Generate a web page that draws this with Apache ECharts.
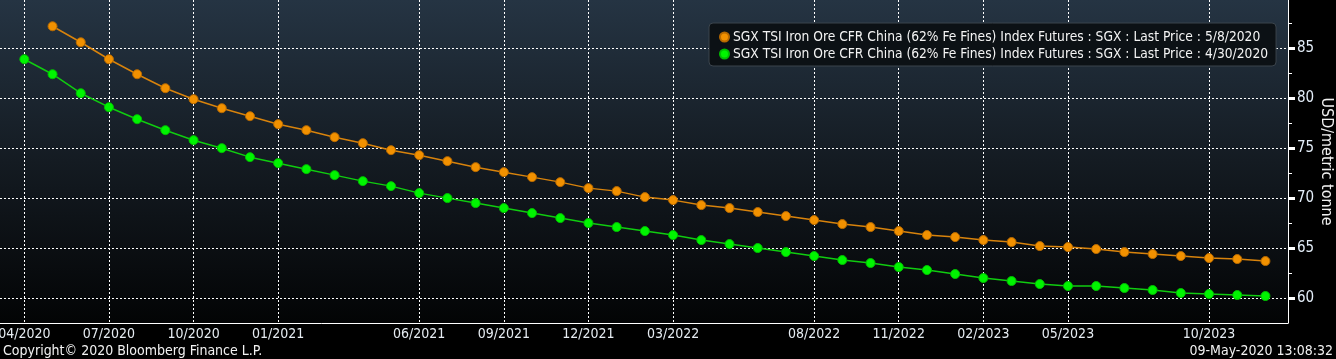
<!DOCTYPE html>
<html>
<head>
<meta charset="utf-8">
<style>
html,body{margin:0;padding:0;background:#000;}
#chart{width:1336px;height:359px;}
</style>
<script src="https://cdn.jsdelivr.net/npm/echarts@6/dist/echarts.min.js"></script>
</head>
<body>
<div id="chart"></div>
<script>
// Months from 04/2020 to 12/2023
const months = [
  '04/2020','05/2020','06/2020','07/2020','08/2020','09/2020','10/2020','11/2020','12/2020',
  '01/2021','02/2021','03/2021','04/2021','05/2021','06/2021','07/2021','08/2021','09/2021','10/2021','11/2021','12/2021',
  '01/2022','02/2022','03/2022','04/2022','05/2022','06/2022','07/2022','08/2022','09/2022','10/2022','11/2022','12/2022',
  '01/2023','02/2023','03/2023','04/2023','05/2023','06/2023','07/2023','08/2023','09/2023','10/2023','11/2023','12/2023'
];
// Last Price 5/8/2020 (starts 05/2020)
const price0508 = [
  87.2,85.6,83.9,82.4,81.0,79.9,79.0,78.2,
  77.4,76.8,76.1,75.5,74.8,74.3,73.7,73.1,72.6,72.1,71.6,71.0,
  70.7,70.1,69.8,69.3,69.0,68.6,68.2,67.8,67.4,67.1,66.7,66.3,
  66.1,65.8,65.6,65.2,65.1,64.9,64.6,64.4,64.2,64.0,63.9,63.7
];
// Last Price 4/30/2020 (starts 04/2020)
const price0430 = [
  83.9,82.4,80.5,79.1,77.9,76.8,75.8,75.0,74.1,
  73.5,72.9,72.3,71.7,71.2,70.5,70.0,69.5,69.0,68.5,68.0,67.5,
  67.1,66.7,66.3,65.8,65.4,65.0,64.6,64.2,63.8,63.5,63.1,62.8,
  62.4,62.0,61.7,61.4,61.2,61.2,61.0,60.8,60.5,60.4,60.3,60.2
];
const xTickLabels = ['04/2020','07/2020','10/2020','01/2021','06/2021','09/2021','12/2021','03/2022','08/2022','11/2022','02/2023','05/2023','10/2023'];
const yTicks = [60,65,70,75,80,85];
const yMinorTicks = [62.5,67.5,72.5,77.5,82.5,87.5];
const seriesNames = [
  'SGX TSI Iron Ore CFR China (62% Fe Fines) Index Futures : SGX : Last Price : 5/8/2020',
  'SGX TSI Iron Ore CFR China (62% Fe Fines) Index Futures : SGX : Last Price : 4/30/2020'
];
const yAxisName = 'USD/metric tonne';
const copyright = 'Copyright\u00a9 2020 Bloomberg Finance L.P.';
const stamp = '09-May-2020 13:08:32';

const FONT = "'Liberation Sans Narrow','DejaVu Sans Condensed','Arial Narrow',sans-serif";
const offset0508 = months.length - price0508.length;
const data0508 = price0508.map((v, i) => [i + offset0508, v]);
const data0430 = price0430.map((v, i) => [i, v]);
const xTickIdx = xTickLabels.map(l => months.indexOf(l));

const chart = echarts.init(document.getElementById('chart'));
const Y_MIN = 57.5, Y_MAX = 89.83;
chart.setOption({
  backgroundColor: '#000',
  animation: false,
  textStyle: { fontFamily: FONT },
  title: [
    { text: copyright, left: 3, bottom: 1, padding: 0,
      textStyle: { color: '#f2f2f2', fontSize: 14, fontWeight: 'normal', fontFamily: FONT } },
    { text: stamp, right: 3, bottom: 1, padding: 0,
      textStyle: { color: '#f2f2f2', fontSize: 14, fontWeight: 'normal', fontFamily: FONT } }
  ],
  grid: {
    left: 0, top: 0, right: 48, bottom: 36,
    outerBoundsMode: 'none',
    containLabel: false,
    show: true, borderWidth: 0,
    backgroundColor: new echarts.graphic.LinearGradient(0, 0, 0, 1, [
      { offset: 0, color: '#253443' },
      { offset: 0.5, color: '#141b22' },
      { offset: 1, color: '#030405' }
    ])
  },
  legend: {
    orient: 'vertical',
    left: 709, top: 23,
    padding: [7, 8, 5, 10],
    itemGap: 3,
    itemWidth: 9, itemHeight: 9,
    icon: 'circle',
    backgroundColor: '#0c1115',
    borderColor: '#3b444c',
    borderWidth: 1,
    borderRadius: 4,
    textStyle: { color: '#f4f4f4', fontSize: 13.7, fontFamily: FONT, padding: [0, 0, 0, -1] },
    data: seriesNames
  },
  xAxis: {
    type: 'value',
    min: -0.862, max: 44.8,
    axisLine: { show: true, onZero: false, lineStyle: { color: '#ffffff', width: 1 } },
    axisTick: { show: false, customValues: xTickIdx },
    axisLabel: {
      customValues: xTickIdx,
      color: '#e6ecf2', fontSize: 14, fontFamily: FONT, margin: 4,
      formatter: v => months[Math.round(v)] || ''
    },
    splitLine: { show: true, lineStyle: { color: '#ffffff', type: [2, 2], width: 1 } }
  },
  yAxis: [
    {
      type: 'value', position: 'right',
      min: Y_MIN, max: Y_MAX,
      name: yAxisName, nameLocation: 'middle', nameRotate: -90, nameGap: 30,
      nameMoveOverlap: false,
      nameTextStyle: { color: '#f0f0f0', fontSize: 16, fontFamily: FONT },
      axisLine: { show: true, onZero: false, lineStyle: { color: '#ffffff', width: 1 } },
      axisTick: { show: true, customValues: yTicks, length: 7, lineStyle: { color: '#ffffff', width: 3 } },
      axisLabel: { customValues: yTicks, color: '#e3edf8', fontSize: 15, fontFamily: FONT, margin: 9 },
      splitLine: { show: true, lineStyle: { color: '#ffffff', type: [2, 2], width: 1 } }
    },
    {
      type: 'value', position: 'right',
      min: Y_MIN, max: Y_MAX,
      axisLine: { show: false, onZero: false },
      axisTick: { show: true, customValues: yMinorTicks, length: 4, lineStyle: { color: '#ffffff', width: 1 } },
      axisLabel: { show: false },
      splitLine: { show: false }
    }
  ],
  series: [
    {
      name: seriesNames[0], type: 'line', data: data0508,
      symbol: 'circle', symbolSize: 9,
      itemStyle: { color: '#f29100', borderColor: '#b86a00', borderWidth: 1 },
      lineStyle: { color: '#d8830c', width: 1.5 },
      z: 3
    },
    {
      name: seriesNames[1], type: 'line', data: data0430,
      symbol: 'circle', symbolSize: 9,
      itemStyle: { color: '#00f500', borderColor: '#00c000', borderWidth: 1 },
      lineStyle: { color: '#10cc10', width: 1.5 },
      z: 3
    }
  ]
});
</script>
</body>
</html>
